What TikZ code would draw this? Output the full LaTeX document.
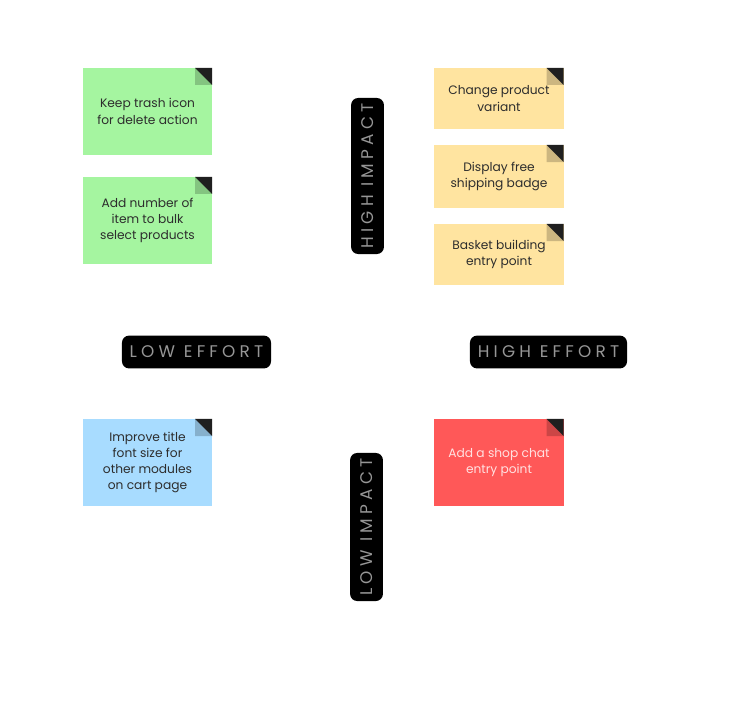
\documentclass[tikz,border=0pt]{standalone}
\usepackage{fontspec}
\setmainfont{Poppins}
\usepackage{tikz}
\usetikzlibrary{positioning}
\definecolor{notegreen}{RGB}{165,245,160}
\definecolor{noteyellow}{RGB}{255,228,160}
\definecolor{noteblue}{RGB}{168,220,255}
\definecolor{notered}{RGB}{255,88,88}
\definecolor{notetext}{RGB}{45,45,45}
\definecolor{tagtext}{RGB}{150,150,150}

\begin{document}
\begin{tikzpicture}[
  x=0.025cm,y=-0.025cm,
  note/.style={minimum width=3.225cm,minimum height=2.175cm,inner sep=2pt,align=center,
    font=\fontsize{8.7}{11.6}\selectfont,text=notetext,
    path picture={
      \fill[#1!80!black] (path picture bounding box.north east) ++(-0.425cm,0) -- ++(0,-0.425cm) -- ++(0.425cm,0) -- cycle;
      \fill[black!88] (path picture bounding box.north east) -- ++(-0.425cm,0) -- ++(0.425cm,-0.425cm) -- cycle;
    },fill=#1},
  tag/.style={fill=black,rounded corners=5pt,minimum height=0.82cm,inner sep=0pt,
    text=tagtext,font=\fontsize{12}{14}\selectfont\addfontfeatures{LetterSpace=25}},
]
\useasboundingbox (0,0) rectangle (736,704);

% low effort / high impact
\node[note=notegreen] (trash) at (147.5,111.5) {Keep trash icon\\for delete action};
\node[note=notegreen] (bulk) at (147.5,220.5) {Add number of\\item to bulk\\select products};

% high effort / high impact
\node[note=noteyellow,minimum height=1.525cm] (variant) at (499,98.5) {Change product\\variant};
\node[note=noteyellow,minimum height=1.575cm] (badge) at (499,176.5) {Display free\\shipping badge};
\node[note=noteyellow,minimum height=1.525cm] (basket) at (499,254.5) {Basket building\\entry point};

% low impact
\node[note=noteblue] (title) at (147.5,462.5) {Improve title\\font size for\\other modules\\on cart page};
\node[note=notered,text={rgb,255:red,255;green,225;blue,225}] (chat) at (499,462.5) {Add a shop chat\\entry point};

% axes
\node[tag,rotate=90,minimum width=3.9cm] (himpact) at (367.5,176) {HIGH IMPACT};
\node[tag,rotate=90,minimum width=3.7cm] (limpact) at (366.5,527) {LOW IMPACT};
\node[tag,minimum width=3.725cm] (leffort) at (196.5,352) {LOW EFFORT};
\node[tag,minimum width=3.925cm] (heffort) at (548.5,352) {HIGH EFFORT};
\end{tikzpicture}
\end{document}
